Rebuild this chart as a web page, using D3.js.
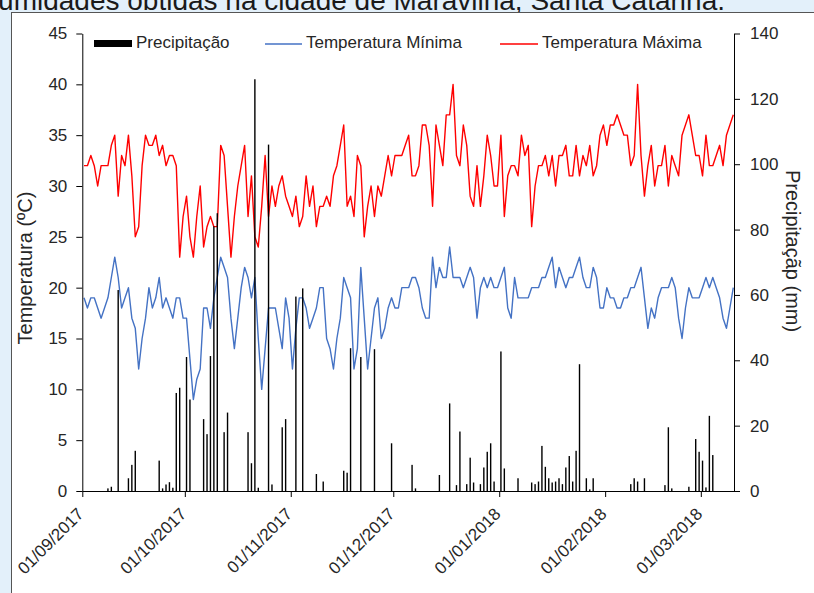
<!DOCTYPE html>
<html>
<head>
<meta charset="utf-8">
<script src="https://d3js.org/d3.v7.min.js"></script>
<style>
body {
  margin: 0;
  background: #e3f0fa;
}
</style>
</head>
<body>
<div id="chart"></div>

<script>
// Daily series from 01/09/2017 (index 0) to 10/03/2018 (index 190)
const firstDay = "01/09/2017";

// Temperatura Máxima (ºC)
const tmax = [
  32,32,33,32,30,32,32,32,34,35,29,33,32,35,31,25,26,32,35,34,34,35,33,34,32,33,33,32,23,27,29,25,23,
  27,30,24,26,27,26,26,34,33,28,23,27,30,32,34,27,31,25,24,28,33,27,30,28,30,31,29,28,27,29,26,
  27,31,28,30,26,28,28,29,28,31,32,34,36,28,29,27,33,32,25,28,30,27,30,29,31,33,31,33,33,33,34,
  35,31,31,32,36,36,34,28,36,34,32,37,37,40,33,32,36,34,29,28,32,28,31,35,33,30,30,35,27,31,32,
  32,31,35,33,34,26,30,32,32,33,31,33,30,33,33,34,31,31,34,31,33,32,34,31,32,35,36,34,36,36,37,
  36,35,35,32,33,40,33,29,32,34,30,32,32,34,30,33,32,31,35,36,37,35,33,33,31,35,32,32,33,34,32,35,36,37
];

// Temperatura Mínima (ºC)
const tmin = [
  19,18,19,19,18,17,18,19,21,23,21,18,19,20,17,16,12,15,17,20,18,19,21,18,19,18,17,19,19,17,17,13,9,
  11,12,18,18,16,19,21,23,22,21,17,14,17,20,22,21,19,21,15,10,14,18,18,18,16,14,19,17,12,16,19,
  19,18,16,17,18,20,20,15,14,12,15,17,21,20,19,12,14,22,17,12,15,18,19,15,16,18,19,18,18,20,20,
  20,21,21,20,18,17,17,23,20,22,21,21,24,21,21,21,20,21,22,21,17,20,21,20,21,20,20,21,22,18,17,
  21,19,19,19,19,20,20,20,21,21,22,23,20,22,21,20,21,21,22,23,21,20,20,22,21,18,18,20,19,19,18,
  18,19,19,20,20,21,22,19,16,18,17,19,20,20,20,21,20,17,15,18,20,19,19,19,20,21,20,21,20,19,17,16,18,20
];

// Precipitação (mm)
const precip = [
  0,0,0,0,0,0,0,0.8,1.3,0,
  61.5,0,0,3.9,8,12.3,0,0,0,0,
  0,0,9.3,0.8,2,2.7,1,30,31.6,0,
  41,28,0,0,0,22,17.4,41.3,81,85,
  0,18,24,0,0,0,0,0,18,8.5,
  126,1,0,0,106,2,0,0,19.5,22,
  0,0,59.5,0,62,0,0,0,5.2,0,
  2.9,0,0,0,0,0,6.2,5.6,43.7,0,
  0,41,0,0,0,43.4,0,0,0,0,
  14.6,0,0,0,0,0,8,0.8,0,0,
  0,0,0,0,4.9,0,0,26.8,0,1.8,
  18.2,0,2.1,10.2,2.6,0,2.1,7.2,12,14.6,
  2.9,0,42.7,6.9,0,0,0,3.9,0,0,
  0,2.6,2.1,2.9,13.8,7.4,3.9,2.6,2.9,3.9,
  2.1,7.2,10.7,2.9,12.3,38.8,0,3.9,0.5,3.9,
  0,0,0,0,0,0,0,0,0,0,
  2.1,3.9,2.9,0,3.9,0,0,0,0,0,
  1.8,19.5,0.8,0,0,0,0,1.3,0,15.9,
  12,9.3,1.1,23,11,0,0,0,0,0,0
];

const dateLabels = ["01/09/2017", "01/10/2017", "01/11/2017", "01/12/2017",
                    "01/01/2018", "01/02/2018", "01/03/2018"];
const tempTicks = [0, 5, 10, 15, 20, 25, 30, 35, 40, 45];
const rainTicks = [0, 20, 40, 60, 80, 100, 120, 140];

const font = "'Liberation Sans', Arial, sans-serif";
const textColor = "#262626";

const parseDate = d3.utcParse("%d/%m/%Y");
const start = parseDate(firstDay);
const dayDate = i => d3.utcHour.offset(d3.utcDay.offset(start, i), 12); // middle of the day

// Create SVG
const svg = d3.select("#chart")
  .append("svg")
  .attr("width", 814)
  .attr("height", 593);

svg.append("rect")
  .attr("width", 814)
  .attr("height", 593)
  .attr("fill", "#e3f0fa");

// caption of the document, cut by the screenshot
svg.append("text")
  .attr("x", 725)
  .attr("y", 10)
  .attr("text-anchor", "end")
  .attr("font-family", font)
  .attr("font-size", 28)
  .attr("fill", "#1a1a1a")
  .text("umidades obtidas na cidade de Maravilha, Santa Catarina.");

// chart frame
svg.append("rect")
  .attr("x", 11.5)
  .attr("y", 12.5)
  .attr("width", 830)
  .attr("height", 600)
  .attr("fill", "white")
  .attr("stroke", "#555");

// Create scales
const x = d3.scaleUtc()
  .domain([start, d3.utcDay.offset(start, tmax.length)])
  .range([82.3, 735]);
const yT = d3.scaleLinear().domain([0, 45]).range([491, 33.5]);
const yP = d3.scaleLinear().domain([0, 140]).range([491, 33.5]);

// Temperature lines
const line = d3.line()
  .x((d, i) => x(dayDate(i)))
  .y(d => yT(d));

svg.append("path")
  .datum(tmin)
  .attr("fill", "none")
  .attr("stroke", "#4472c4")
  .attr("stroke-width", 1.4)
  .attr("stroke-linejoin", "round")
  .attr("d", line);

svg.append("path")
  .datum(tmax)
  .attr("fill", "none")
  .attr("stroke", "#ff0000")
  .attr("stroke-width", 1.4)
  .attr("stroke-linejoin", "round")
  .attr("d", line);

// Precipitation bars (secondary axis, on top)
svg.append("g")
  .selectAll("rect")
  .data(precip.map((v, i) => ({ v: v, i: i })).filter(d => d.v > 0))
  .enter().append("rect")
  .attr("x", d => x(dayDate(d.i)) - 0.7)
  .attr("width", 1.4)
  .attr("y", d => yP(d.v))
  .attr("height", d => yP(0) - yP(d.v))
  .attr("fill", "black");

// Axes
const gx = svg.append("g")
  .attr("transform", "translate(0,491)")
  .call(d3.axisBottom(x)
    .tickValues(dateLabels.map(parseDate))
    .tickFormat(d3.utcFormat("%d/%m/%Y"))
    .tickSize(6)
    .tickSizeOuter(0));
gx.selectAll("text")
  .attr("text-anchor", "end")
  .attr("y", 0)
  .attr("dy", 0)
  .attr("transform", "translate(2,24) rotate(-45)");

const gl = svg.append("g")
  .attr("transform", "translate(82.3,0)")
  .call(d3.axisLeft(yT).tickValues(tempTicks).tickSize(6).tickPadding(9).tickSizeOuter(0));

const gr = svg.append("g")
  .attr("transform", "translate(734,0)")
  .call(d3.axisRight(yP).tickValues(rainTicks).tickSize(6).tickPadding(10).tickSizeOuter(0));

[gx, gl, gr].forEach(g => {
  g.attr("font-family", font).attr("font-size", 17);
  g.selectAll("text").attr("fill", textColor);
  g.selectAll("line, path").attr("stroke", "black");
});

// Axis titles
svg.append("text")
  .attr("transform", "translate(32,268) rotate(-90)")
  .attr("text-anchor", "middle")
  .attr("font-family", font)
  .attr("font-size", 20)
  .attr("fill", textColor)
  .text("Temperatura (ºC)");

svg.append("text")
  .attr("transform", "translate(786,251) rotate(90)")
  .attr("text-anchor", "middle")
  .attr("font-family", font)
  .attr("font-size", 20)
  .attr("fill", textColor)
  .text("Precipitaçãp (mm)");

// Legend
const legend = svg.append("g")
  .attr("font-family", font)
  .attr("font-size", 17)
  .attr("fill", textColor);

legend.append("rect")
  .attr("x", 94).attr("y", 40)
  .attr("width", 38).attr("height", 7)
  .attr("fill", "black");
legend.append("text").attr("x", 136).attr("y", 47.5).text("Precipitação");

legend.append("line")
  .attr("x1", 265).attr("x2", 302).attr("y1", 44).attr("y2", 44)
  .attr("stroke", "#4472c4").attr("stroke-width", 1.4);
legend.append("text").attr("x", 306).attr("y", 47.5).text("Temperatura Mínima");

legend.append("line")
  .attr("x1", 500).attr("x2", 538).attr("y1", 44).attr("y2", 44)
  .attr("stroke", "#ff0000").attr("stroke-width", 1.4);
legend.append("text").attr("x", 542).attr("y", 47.5).text("Temperatura Máxima");
</script>
</body>
</html>
